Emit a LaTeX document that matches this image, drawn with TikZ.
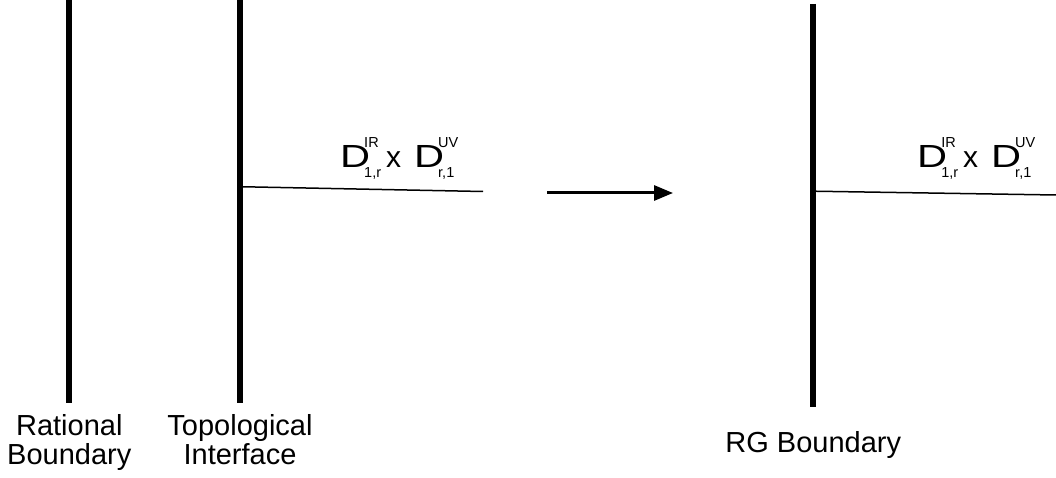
\documentclass[tikz,border=0pt]{standalone}
\usepackage{fontspec}
\setmainfont{Liberation Sans}
\usepackage{graphicx}
\usetikzlibrary{arrows.meta}
\newcommand\scr[1]{{\fontsize{14.5}{14.5}\selectfont #1}}
\newcommand\Dterm[2]{\scalebox{1.3}[1]{\fontsize{32}{32}\selectfont D}\kern-6pt\rlap{\raisebox{20pt}{\scr{#1}}}\raisebox{-10pt}{\scr{#2}}}
\begin{document}
\begin{tikzpicture}[x=1pt,y=-1pt,
  wall/.style={line width=6pt},
  thin/.style={line width=1.5pt},
  lbl/.style={font=\fontsize{29}{29}\selectfont, align=center, inner sep=0pt},
  prod/.style={inner sep=0pt, anchor=base west}]
\useasboundingbox (0,0) rectangle (1056,478);
% vertical boundaries
\coordinate (r1t) at (69.3,0);   \coordinate (r1b) at (69.3,402.7);
\coordinate (t1t) at (240,0);    \coordinate (t1b) at (240,402.7);
\coordinate (g1t) at (813.3,4);  \coordinate (g1b) at (813.3,407);
\draw[wall] (r1t) -- (r1b);
\draw[wall] (t1t) -- (t1b);
\draw[wall] (g1t) -- (g1b);
% thin lines
\coordinate (l1a) at (240,186.7); \coordinate (l1b) at (483,191.5);
\coordinate (l2a) at (813.3,191.2); \coordinate (l2b) at (1056,195);
\draw[thin] (l1a) -- (l1b);
\draw[thin] (l2a) -- (l2b);
% arrow
\coordinate (aa) at (547,193); \coordinate (ab) at (673,193);
\draw[line width=3pt,-{Triangle[length=19pt,width=15pt]}] (aa) -- (ab);
% products
\node[prod] (p1) at (340,168) {\Dterm{IR}{1,r}\kern5pt{\fontsize{30}{30}\selectfont x}\kern13pt\Dterm{UV}{r,1}};
\node[prod] (p2) at (917,168) {\Dterm{IR}{1,r}\kern5pt{\fontsize{30}{30}\selectfont x}\kern13pt\Dterm{UV}{r,1}};
% labels
\node[lbl, anchor=base] (rb) at (69.3,464) {Rational\\Boundary};
\node[lbl, anchor=base] (ti) at (240,464) {Topological\\Interface};
\node[lbl, anchor=base] (rg) at (813.3,452) {RG Boundary};
\end{tikzpicture}
\end{document}
